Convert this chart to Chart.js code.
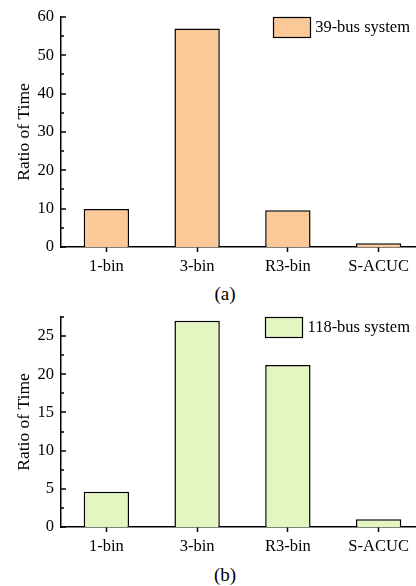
<!DOCTYPE html>
<html>
<head>
<meta charset="utf-8">
<title>Ratio of Time</title>
<script src="https://cdn.jsdelivr.net/npm/chart.js@4.4.0/dist/chart.umd.min.js"></script>
<style>
  body { margin: 0; width: 416px; height: 586px; overflow: hidden; background: #fff; position: relative; font-family: "Liberation Serif", serif; }
  .box { position: absolute; left: 0; width: 424px; }
  .cap { position: absolute; left: 0; width: 450px; text-align: center; font-size: 19px; line-height: 20px; color: #000; }
</style>
</head>
<body>
<div class="box" style="top:0;height:277px"><canvas id="chartA"></canvas></div>
<div class="cap" style="top:284px">(a)</div>
<div class="box" style="top:300px;height:257px"><canvas id="chartB"></canvas></div>
<div class="cap" style="top:565px">(b)</div>
<script>
// data
const categories = ['1-bin', '3-bin', 'R3-bin', 'S-ACUC'];
const ratio39 = [9.9, 57, 9.6, 1];
const ratio118 = [4.6, 27, 21.2, 1];
const yAxisA = [0, 60, 5, 10];     // min, max, minor step, major step
const yAxisB = [0, 27.5, 2.5, 5];

Chart.defaults.font.family = '"Liberation Serif", "Times New Roman", serif';
Chart.defaults.color = '#000';

// y ticks in Origin style: pointing into the plot, minor ones shorter
const inwardTicks = {
  id: 'inwardTicks',
  afterDatasetsDraw(chart) {
    const y = chart.scales.y, ctx = chart.ctx, x0 = chart.chartArea.left;
    ctx.save();
    ctx.strokeStyle = '#000';
    ctx.lineWidth = 1.5;
    y.ticks.forEach(t => {
      const py = Math.round(y.getPixelForValue(t.value));
      const len = t.label !== '' ? 5 : 3;
      ctx.beginPath();
      ctx.moveTo(x0, py);
      ctx.lineTo(x0 + len, py);
      ctx.stroke();
    });
    ctx.restore();
  }
};

// legend box sitting in the top right corner of the plot
const boxLegend = {
  id: 'boxLegend',
  afterDraw(chart) {
    const ds = chart.data.datasets[0];
    const ctx = chart.ctx, a = chart.chartArea;
    ctx.save();
    ctx.font = '16.5px "Liberation Serif"';
    const tw = ctx.measureText(ds.label).width;
    const bw = 37, bh = 20, gap = 5;
    const tx = a.right - 14 - tw;
    const bx = Math.round(tx - gap - bw), by = Math.round(a.top);
    ctx.fillStyle = ds.backgroundColor;
    ctx.fillRect(bx, by, bw, bh);
    ctx.strokeStyle = '#000';
    ctx.lineWidth = 1.2;
    ctx.strokeRect(bx + 0.5, by + 0.5, bw, bh);
    ctx.fillStyle = '#000';
    ctx.textBaseline = 'middle';
    ctx.fillText(ds.label, tx, by + bh / 2 + 1);
    ctx.restore();
  }
};

function makeChart(id, label, values, color, yAxis, padTop) {
  const [yMin, yMax, minorStep, majorStep] = yAxis;
  return new Chart(document.getElementById(id), {
    type: 'bar',
    data: {
      labels: categories,
      datasets: [{
        label: label,
        data: values,
        backgroundColor: color,
        borderColor: '#000',
        borderWidth: 1.5,
        categoryPercentage: 1,
        barPercentage: 0.5
      }]
    },
    options: {
      responsive: true,
      maintainAspectRatio: false,
      animation: false,
      layout: { padding: { top: padTop, left: 0, right: 0, bottom: 0 } },
      plugins: { legend: { display: false }, tooltip: { enabled: false } },
      scales: {
        x: {
          offset: true,
          grid: { display: true, drawOnChartArea: false, drawTicks: true, tickLength: 5, tickWidth: 1.5, tickColor: '#000', offset: false },
          border: { display: true, color: '#000', width: 1.5 },
          ticks: { font: { size: 16.5 }, padding: 5, maxRotation: 0 },
          afterFit(s) { s.height = 30; }
        },
        y: {
          min: yMin,
          max: yMax,
          grid: { display: false, drawTicks: false },
          border: { display: true, color: '#000', width: 1.5 },
          ticks: {
            stepSize: minorStep,
            autoSkip: false,
            padding: 7,
            font: { size: 16.5 },
            callback: v => (v % majorStep === 0 ? String(v) : '')
          },
          title: { display: true, text: 'Ratio of Time', font: { size: 17.5 }, padding: { top: 14, bottom: 0 } },
          afterFit(s) { s.width = 61; }
        }
      }
    },
    plugins: [inwardTicks, boxLegend]
  });
}

makeChart('chartA', '39-bus system', ratio39, '#FBC898', yAxisA, 12);
makeChart('chartB', '118-bus system', ratio118, '#E3F6C2', yAxisB, 13);
</script>
</body>
</html>
